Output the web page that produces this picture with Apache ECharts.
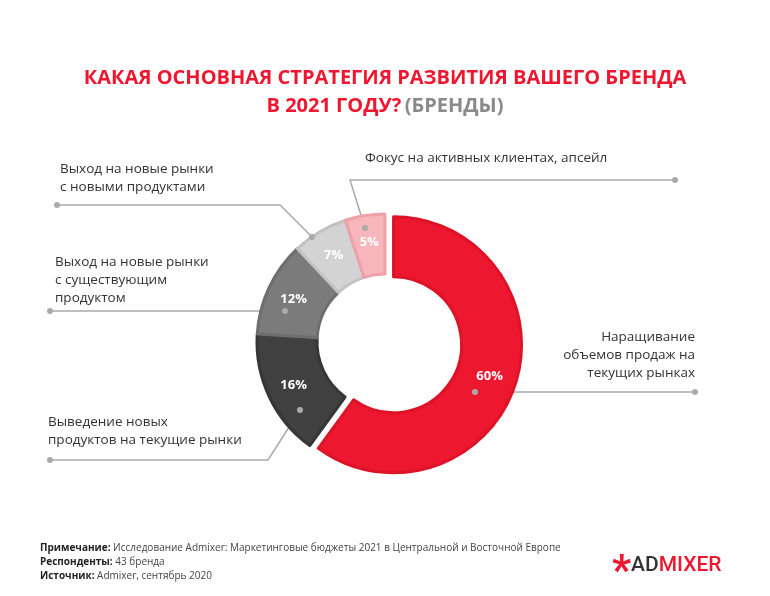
<!DOCTYPE html><html><head><meta charset="utf-8">
<script src="https://cdn.jsdelivr.net/npm/echarts@6/dist/echarts.min.js"></script>
<style>body{margin:0}#c{width:770px;height:596px}</style></head><body><div id="c"></div>
<script>
const categories=['Наращивание\nобъемов продаж на\nтекущих рынках','Выведение новых\nпродуктов на текущие рынки','Выход на новые рынки\nс существующим\nпродуктом','Выход на новые рынки\nс новыми продуктами','Фокус на активных клиентах, апсейл'];
const values=[60,16,12,7,5];
const colors=['#ee1730','#404040','#7b7b7b','#d3d3d3','#f7b5bc'];
const borders=['#dd1428','#363636','#6e6e6e','#c2c2c2','#efa0a9'];
const labelPos=[
 {x:695,y:355,align:'right',line:[[475,392],[695,392]]},
 {x:48,y:431,align:'left',line:[[300,410],[268,460],[50,460]]},
 {x:55,y:280,align:'left',line:[[285,311],[50,311]]},
 {x:60,y:178,align:'left',line:[[312,237],[280,205],[57,205]]},
 {x:365,y:158,align:'left',line:[[365,228],[350,180],[675,180]]}
];
const font='"Open Sans", Lato, sans-serif';
const chart=echarts.init(document.getElementById('c'));
const data=values.map((v,i)=>({value:v,name:categories[i],selected:i===0,itemStyle:{color:colors[i],borderColor:borders[i],borderWidth:3}}));
const dots=labelPos.map(L=>[L.line[0],L.line[L.line.length-1]]).flat().map(p=>({type:'circle',shape:{cx:p[0],cy:p[1],r:3},style:{fill:'#aaa'},z:100}));
chart.setOption({
 animation:false,backgroundColor:'#fff',
 graphic:[
  {type:'text',x:385,y:64,style:{text:'{r|КАКАЯ ОСНОВНАЯ СТРАТЕГИЯ РАЗВИТИЯ ВАШЕГО БРЕНДА}\n{r|В 2021 ГОДУ?} {g|(БРЕНДЫ)}',align:'center',
   rich:{r:{fill:'#ee1730',fontSize:20,fontWeight:'bold',fontFamily:font,lineHeight:28,align:'center'},g:{fill:'#8a8a8a',fontSize:20,fontWeight:'bold',fontFamily:font,lineHeight:28}}}},
  {type:'text',left:40,top:541,style:{text:'{b|Примечание:} Исследование Admixer: Маркетинговые бюджеты 2021 в Центральной и Восточной Европе\n{b|Респонденты:} 43 бренда\n{b|Источник:} Admixer, сентябрь 2020',fill:'#444',font:'10px "Open Sans"',lineHeight:14,rich:{b:{fontWeight:'bold',fontSize:10,fill:'#222',fontFamily:'Open Sans'}}}},
  {type:'text',left:612,top:552,style:{text:'{a|*}{d|AD}{m|MIXER}',rich:{a:{fill:'#ee1730',fontSize:42,fontWeight:'bold',fontFamily:'Roboto',padding:[14,0,0,0]},d:{fill:'#333',fontSize:21,fontFamily:'Roboto',fontWeight:500},m:{fill:'#ee1730',fontSize:21,fontFamily:'Roboto',fontWeight:500}}}}
 ].concat(dots),
 series:[{type:'pie',center:[385,342],radius:[68,128],startAngle:90,clockwise:true,selectedMode:'single',selectedOffset:9,
  data:data,
  label:{position:'inside',formatter:'{c}%',color:'#fff',fontSize:13,fontWeight:'bold',fontFamily:font},
  labelLine:{show:false},emphasis:{disabled:true}},
 {type:'pie',center:[385,342],radius:[68,128],startAngle:90,clockwise:true,silent:true,
  data:values.map((v,i)=>({value:v,name:categories[i],itemStyle:{color:'transparent'}})),
  label:{show:true,position:'outside',formatter:'{b}',color:'#333',fontSize:13.5,lineHeight:18,fontFamily:font},
  labelLine:{show:true,lineStyle:{color:'#aaa',width:1.5}},
  labelLayout:function(p){const L=labelPos[p.dataIndex];return {x:L.x,y:L.y,align:L.align,verticalAlign:'middle',labelLinePoints:L.line};}
 }]
});
</script></body></html>
